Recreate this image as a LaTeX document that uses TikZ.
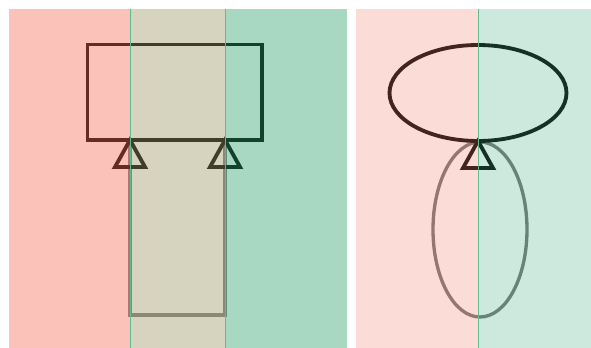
\documentclass[tikz,border=0pt]{standalone}
\usetikzlibrary{positioning}
\definecolor{warmred}{RGB}{240,80,55}
\definecolor{coolgreen}{RGB}{5,140,80}
\definecolor{midtone}{RGB}{138,129,69}
\definecolor{seamline}{RGB}{100,185,145}
\tikzset{
  frame/.style={line width=0.115cm, line join=miter, draw=black!90},
  ghost/.style={line width=0.1cm, draw=black!45},
  tint/.style={fill opacity=0.35},
  paletint/.style={fill opacity=0.2},
  seam/.style={draw=seamline, line width=0.7pt},
}
\begin{document}
\begin{tikzpicture}[x=0.03cm, y=-0.03cm]
\useasboundingbox (0,0) rectangle (591,348);

% left: beam resting on two pivots
\coordinate (pivA) at (130,140);
\coordinate (pivB) at (225,140);
\draw[ghost] (pivA) -- (130,315) -- (225,315) -- (pivB);
\draw[frame] (87.5,44.5) rectangle (262,140);
\draw[frame] (pivA) -- ++(-15,27) -- ++(30,0) -- cycle;
\draw[frame] (pivB) -- ++(-15,27) -- ++(30,0) -- cycle;

% right: ellipse on a single pivot
\coordinate (pivC) at (478,141);
\draw[ghost, draw=black!50] (480,229.5) ellipse [x radius=47, y radius=87.5];
\draw[frame] (478,93) ellipse [x radius=88.5, y radius=48];
\draw[frame] (pivC) -- ++(-15,27) -- ++(30,0) -- cycle;

% tinted panels
\fill[warmred, tint] (9,9) rectangle (130,348);
\fill[midtone, tint] (130,9) rectangle (225,348);
\fill[coolgreen, tint] (225,9) rectangle (347,348);
\fill[warmred, paletint] (356,9) rectangle (478,348);
\fill[coolgreen, paletint] (478,9) rectangle (591,348);

\draw[seam] (130,9) -- (130,348);
\draw[seam] (225,9) -- (225,348);
\draw[seam] (478,9) -- (478,348);
\end{tikzpicture}
\end{document}
